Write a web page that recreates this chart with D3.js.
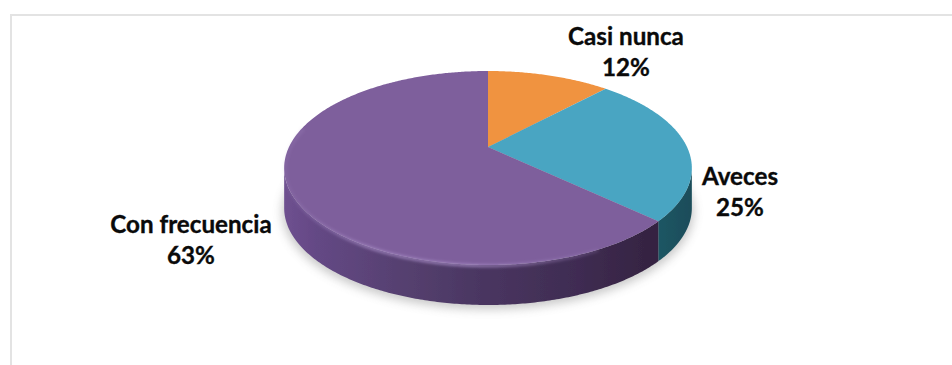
<!DOCTYPE html>
<html>
<head>
<meta charset="utf-8">
<script src="https://cdn.jsdelivr.net/npm/d3@7"></script>
<style>
  html, body { margin: 0; padding: 0; background: #fff; overflow: hidden; }
  svg { display: block; }
  text { font-family: Lato, "Open Sans", sans-serif; font-weight: 700; fill: #0a0a0a; stroke: #0a0a0a; stroke-width: 0.35; }
</style>
</head>
<body>
<svg id="chart" width="952" height="365"></svg>
<script>
// Answers by frequency, in drawing order clockwise from twelve o'clock
const categories = ["Casi nunca", "Aveces", "Con frecuencia"];
const percentages = [12, 25, 63];
const topColors = ["#f09340", "#48a5c2", "#7e5e9c"];
const labelAnchors = [
  { x: 626, y: 45 },
  { x: 740, y: 185 },
  { x: 191, y: 233 }
];

const width = 952, height = 365;
const cx = 488, cy = 147;      // where the slices meet on screen
const radiusX = 199, radiusY = 92.45;
const tilt = 0.2165;           // perspective strength of the tilted disc
const depth = 40;              // wall height of the pie

const svg = d3.select("#chart");
const defs = svg.append("defs");

const blur = (id, sd) => defs.append("filter")
  .attr("id", id)
  .attr("x", "-20%").attr("y", "-20%").attr("width", "140%").attr("height", "140%")
  .append("feGaussianBlur").attr("stdDeviation", sd);
blur("soft", 0.7);
blur("glow", 1.8);
blur("shadow", 5);

const wallGradient = (id, stops) => {
  const g = defs.append("linearGradient")
    .attr("id", id)
    .attr("gradientUnits", "userSpaceOnUse")
    .attr("x1", cx - radiusX * 1.03).attr("x2", cx + radiusX * 1.03)
    .attr("y1", 0).attr("y2", 0);
  stops.forEach(([o, c]) => g.append("stop").attr("offset", o).attr("stop-color", c));
};
wallGradient("wall-orange", [[0, "#a8642a"], [1, "#a8642a"]]);
wallGradient("wall-teal", [[0.8, "#235d6b"], [0.9, "#1f5866"], [1, "#1a4c59"]]);
wallGradient("wall-purple", [
  [0, "#6f5190"], [0.08, "#644885"], [0.3, "#55406f"],
  [0.5, "#493560"], [0.72, "#3f2c52"], [0.88, "#362443"], [1, "#332240"]
]);

const rimGradient = defs.append("linearGradient")
  .attr("id", "rim")
  .attr("gradientUnits", "userSpaceOnUse")
  .attr("x1", cx - radiusX).attr("x2", cx + radiusX)
  .attr("y1", 0).attr("y2", 0);
[[0, 0.15], [0.2, 0.75], [0.45, 0.8], [0.7, 0.35], [0.9, 0.05]].forEach(([o, a]) =>
  rimGradient.append("stop").attr("offset", o)
    .attr("stop-color", "#a78cc6").attr("stop-opacity", a));

// Chart frame: only the top and left edges fall inside the page
const frame = svg.append("g").attr("stroke", "#e3e3e3").attr("stroke-width", 2);
frame.append("line").attr("x1", 10).attr("x2", width).attr("y1", 15).attr("y2", 15);
frame.append("line").attr("x1", 11).attr("x2", 11).attr("y1", 14).attr("y2", height);

// Angle measured clockwise from the top of the disc, mapped through the tilt
const project = (angle, r = 1, dy = 0) => {
  const u = r * Math.sin(angle), v = -r * Math.cos(angle);
  const w = 1 - tilt * v;
  return [cx + radiusX * u / w, cy + radiusY * v / w + dy];
};
const sweep = (a0, a1, dy = 0, r = 1) => {
  const n = Math.max(2, Math.ceil(Math.abs(a1 - a0) / 0.01));
  return d3.range(n + 1).map(i => project(a0 + (a1 - a0) * i / n, r, dy));
};
const path = d3.line();

const arcs = d3.pie().sort(null)(percentages);

// The wall is only seen between the two silhouette tangents of the disc
const wallFrom = Math.acos(-tilt), wallTo = 2 * Math.PI - wallFrom;

svg.append("path")
  .attr("d", path(sweep(0, 2 * Math.PI, depth + 3, 1.01)) + "Z")
  .attr("fill", "#8a8a8a")
  .attr("opacity", 0.45)
  .attr("filter", "url(#shadow)");

const pie = svg.append("g").attr("filter", "url(#soft)");

pie.selectAll("path.wall")
  .data(arcs.filter(d => d.endAngle > wallFrom && d.startAngle < wallTo))
  .join("path")
  .attr("class", "wall")
  .attr("d", d => {
    const a0 = Math.max(d.startAngle, wallFrom), a1 = Math.min(d.endAngle, wallTo);
    return path([...sweep(a0, a1), ...sweep(a1, a0, depth)]) + "Z";
  })
  .attr("fill", d => ["url(#wall-orange)", "url(#wall-teal)", "url(#wall-purple)"][d.index]);

pie.selectAll("path.slice")
  .data(arcs)
  .join("path")
  .attr("class", "slice")
  .attr("d", d => path([[cx, cy], ...sweep(d.startAngle, d.endAngle)]) + "Z")
  .attr("fill", d => topColors[d.index]);

// Light catching the bevel along the front edge of the disc
svg.append("path")
  .attr("d", path(sweep(arcs[2].startAngle + 0.35, 2 * Math.PI - 1.35, 1.5, 0.995)))
  .attr("fill", "none")
  .attr("stroke", "url(#rim)")
  .attr("stroke-width", 3)
  .attr("filter", "url(#glow)");

const labels = svg.selectAll("text.label")
  .data(categories)
  .join("text")
  .attr("class", "label")
  .attr("text-anchor", "middle")
  .attr("font-size", 24.2);
labels.append("tspan")
  .attr("x", (d, i) => labelAnchors[i].x)
  .attr("y", (d, i) => labelAnchors[i].y)
  .text(d => d);
labels.append("tspan")
  .attr("x", (d, i) => labelAnchors[i].x)
  .attr("y", (d, i) => labelAnchors[i].y + 31)
  .text((d, i) => percentages[i] + "%");
</script>
</body>
</html>
